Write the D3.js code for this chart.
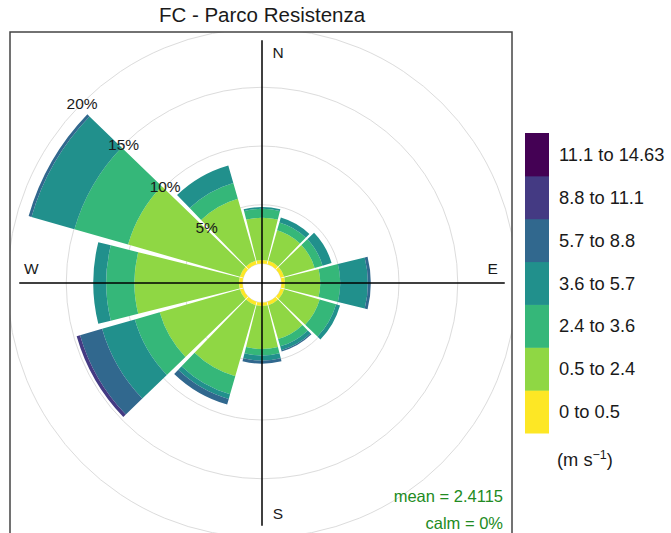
<!DOCTYPE html>
<html>
<head>
<meta charset="utf-8">
<script src="https://cdn.jsdelivr.net/npm/d3@7"></script>
<style>
body { margin: 0; background: #fff; }
text { font-family: "Liberation Sans", Arial, sans-serif; }
</style>
</head>
<body>
<svg width="671" height="533"></svg>
<script>
var svg = d3.select('svg');

// directions (deg from north) and speed bins (m/s)
var dirs = [0, 30, 60, 90, 120, 150, 180, 210, 240, 270, 300, 330];
var bins = ["0 to 0.5", "0.5 to 2.4", "2.4 to 3.6", "3.6 to 5.7", "5.7 to 8.8", "8.8 to 11.1", "11.1 to 14.63"];
var binColors = ["#FDE725", "#8FD744", "#35B779", "#21908C", "#31688E", "#443A83", "#440154"];

// frequency (%) of each speed bin, by direction
var ws0 = [0.3, 0.3, 0.3, 0.3, 0.3, 0.3, 0.3, 0.3, 0.3, 0.3, 0.3, 0.3];
var ws1 = [3.6, 2.7, 2.7, 3.0, 3.15, 3.0, 3.65, 6.3, 7.1, 8.9, 9.9, 5.5];
var ws2 = [0.75, 0.7, 0.7, 1.7, 1.45, 0.65, 0.55, 1.6, 2.2, 2.4, 4.75, 1.4];
var ws3 = [0.15, 0.45, 0.8, 2.35, 0.35, 0.35, 0.45, 0.4, 2.9, 1.1, 3.8, 1.55];
var ws4 = [0, 0, 0, 0.25, 0, 0.1, 0.25, 0.5, 1.95, 0, 0.25, 0];
var ws5 = [0, 0, 0, 0, 0, 0, 0, 0, 0.3, 0, 0, 0];
var ws6 = [0, 0, 0, 0, 0, 0, 0, 0, 0, 0, 0, 0];

var gridPct = [0, 5, 10, 15, 20];
var compass = [["N", 0], ["E", 90], ["S", 180], ["W", 270]];
var title = "FC - Parco Resistenza";
var meanText = "mean = 2.4115";
var calmText = "calm = 0%";

var cx = 262, cy = 283;
var panel = { x: 10, y: 32, w: 502, h: 502 };

var series = [ws0, ws1, ws2, ws3, ws4, ws5, ws6];
var rows = dirs.map(function(d, i) {
  var o = { dir: d };
  series.forEach(function(s, k) { o["b" + k] = s[i] });
  return o;
});
var keys = bins.map(function(b, k) { return "b" + k });
var stacked = d3.stack().keys(keys)(rows);
var maxFreq = d3.max(rows, function(r) { return d3.sum(keys, function(k) { return r[k] }) });

// radius: hole in the middle, then linear in %
var r = d3.scaleLinear().domain([0, 20]).range([19.5, 254.5]);
var rad = Math.PI / 180;
var half = 14;

// title
svg.append("text").attr("x", cx).attr("y", 22).attr("text-anchor", "middle")
  .attr("font-size", 20.5).attr("fill", "#1a1a1a").text(title);

// panel
svg.append("clipPath").attr("id", "pclip").append("rect")
  .attr("x", panel.x).attr("y", panel.y).attr("width", panel.w).attr("height", panel.h);
var g = svg.append("g").attr("clip-path", "url(#pclip)");
var c = g.append("g").attr("transform", "translate(" + cx + "," + cy + ")");

// grid circles
c.selectAll("circle.grid").data(gridPct).enter()
  .append("circle").attr("class", "grid")
  .attr("r", function(d) { return r(d) })
  .attr("fill", "none").attr("stroke", "#dcdcdc").attr("stroke-width", 1);

// wedges
var arc = d3.arc()
  .innerRadius(function(d) { return r(d[0]) })
  .outerRadius(function(d) { return r(d[1]) })
  .startAngle(function(d) { return (d.data.dir - half) * rad })
  .endAngle(function(d) { return (d.data.dir + half) * rad });

stacked.forEach(function(layer, k) {
  c.selectAll("path.b" + k)
    .data(layer.filter(function(d) { return d[1] - d[0] > 0 })).enter()
    .append("path").attr("class", "b" + k)
    .attr("d", arc)
    .attr("fill", binColors[k]);
});

// axis lines
var L = r(maxFreq);
c.append("line").attr("x1", -L).attr("x2", L).attr("y1", 0).attr("y2", 0)
  .attr("stroke", "#000").attr("stroke-width", 1.5);
c.append("line").attr("y1", -L).attr("y2", L).attr("x1", 0).attr("x2", 0)
  .attr("stroke", "#000").attr("stroke-width", 1.5);

// compass labels
var lr = L - 12;
c.selectAll("text.cmp").data(compass).enter()
  .append("text").attr("class", "cmp")
  .attr("x", function(d) { return d[1] % 180 == 0 ? 16 : lr * Math.sin(d[1] * rad) })
  .attr("y", function(d) { return d[1] % 180 == 0 ? -lr * Math.cos(d[1] * rad) : -15 })
  .attr("text-anchor", "middle").attr("dominant-baseline", "central")
  .attr("font-size", 15.5).attr("fill", "#1a1a1a")
  .text(function(d) { return d[0] });

// % labels along 315 deg
c.selectAll("text.pct").data(gridPct.filter(function(d) { return d > 0 })).enter()
  .append("text").attr("class", "pct")
  .attr("x", function(d) { return r(d) * Math.sin(315 * rad) })
  .attr("y", function(d) { return -r(d) * Math.cos(315 * rad) })
  .attr("text-anchor", "middle").attr("dominant-baseline", "central")
  .attr("font-size", 15.5).attr("fill", "#1a1a1a")
  .text(function(d) { return d + "%" });

// mean / calm
svg.append("text").attr("x", 503).attr("y", 502).attr("text-anchor", "end")
  .attr("font-size", 16.5).attr("fill", "forestgreen").text(meanText);
svg.append("text").attr("x", 503).attr("y", 529).attr("text-anchor", "end")
  .attr("font-size", 16.5).attr("fill", "forestgreen").text(calmText);

// panel border
svg.append("rect").attr("x", panel.x).attr("y", panel.y).attr("width", panel.w).attr("height", panel.h)
  .attr("fill", "none").attr("stroke", "#444").attr("stroke-width", 1.5);

// legend
var ly = d3.scaleBand().domain(bins.slice().reverse()).range([133, 433]);
var leg = svg.append("g");
leg.selectAll("rect").data(bins).enter().append("rect")
  .attr("x", 525).attr("width", 24)
  .attr("y", function(d) { return ly(d) }).attr("height", ly.bandwidth() + 0.5)
  .attr("fill", function(d, i) { return binColors[i] });
leg.selectAll("text").data(bins).enter().append("text")
  .attr("x", 559).attr("y", function(d) { return ly(d) + ly.bandwidth() / 2 })
  .attr("dominant-baseline", "central").attr("font-size", 18.3).attr("fill", "#1a1a1a")
  .text(function(d) { return d });
var unit = svg.append("text").attr("x", 557).attr("y", 466).attr("font-size", 18.3).attr("fill", "#1a1a1a");
unit.append("tspan").text("(m s");
unit.append("tspan").attr("dy", -7).attr("font-size", 12.5).text("\u22121");
unit.append("tspan").attr("dy", 7).text(")");
</script>
</body>
</html>
